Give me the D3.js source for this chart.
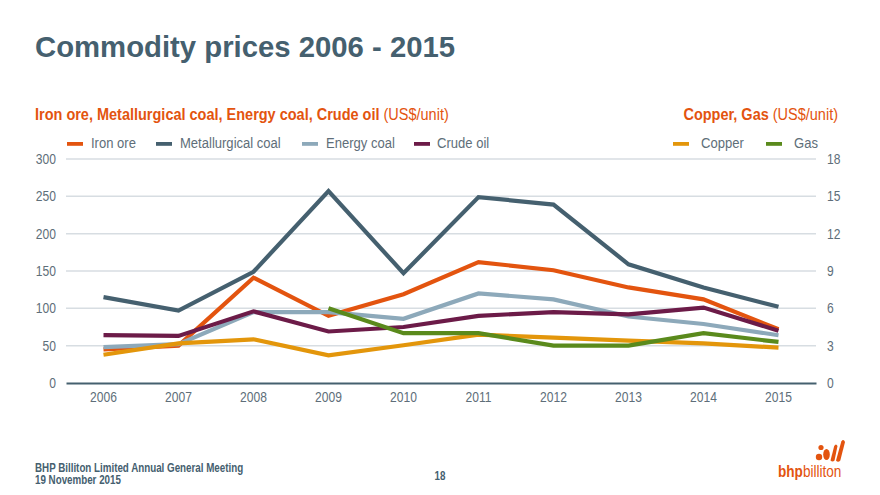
<!DOCTYPE html>
<html>
<head>
<meta charset="utf-8">
<script src="https://cdn.jsdelivr.net/npm/d3@7/dist/d3.min.js"></script>
<style>
  html, body { margin: 0; padding: 0; background: #fff; }
  svg { display: block; font-family: "Liberation Sans", Arial, sans-serif; }
</style>
</head>
<body>
<svg id="chart" width="880" height="495"></svg>
<script>
// ---- Data ----
const years = ["2006","2007","2008","2009","2010","2011","2012","2013","2014","2015"];
const leftTicks = [0, 50, 100, 150, 200, 250, 300];
const rightTicks = [0, 3, 6, 9, 12, 15, 18];

const ironOre        = [45, 50, 141, 90, 119, 162, 151, 128, 112, 72];
const metCoal        = [115, 97, 149, 257, 147, 249, 239, 159, 128, 102];
const energyCoal     = [48, 52, 95, 95, 86, 120, 112, 89, 79, 64];
const crudeOil       = [64, 63, 96, 69, 75, 90, 95, 92, 101, 70];
const copper         = [2.27, 3.19, 3.51, 2.22, 3.03, 3.88, 3.64, 3.4, 3.19, 2.84];
const gas            = [null, null, null, 6.0, 4.0, 4.0, 3.0, 3.0, 4.0, 3.3];

const series = [
  { name: "Iron ore",           values: ironOre,    axis: "left",  color: "#E3540F" },
  { name: "Metallurgical coal", values: metCoal,    axis: "left",  color: "#45606F" },
  { name: "Energy coal",        values: energyCoal, axis: "left",  color: "#8DA9BA" },
  { name: "Crude oil",          values: crudeOil,   axis: "left",  color: "#6C1B48" },
  { name: "Copper",             values: copper,     axis: "right", color: "#E3960B" },
  { name: "Gas",                values: gas,        axis: "right", color: "#5A8A1C" }
];

// ---- Layout ----
const svg = d3.select("#chart");
const plot = { left: 66, right: 816, top: 159, bottom: 383 };
const textGrey = "#5E6E79";
const slate = "#45606F";
const orange = "#E3540F";
const FF = "Liberation Sans, Arial, sans-serif";

const x = d3.scaleBand().domain(years).range([plot.left, plot.right]);
const yL = d3.scaleLinear().domain([0, 300]).range([plot.bottom, plot.top]);
const yR = d3.scaleLinear().domain([0, 18]).range([plot.bottom, plot.top]);

// Title
svg.append("text").attr("x", 35).attr("y", 57)
  .attr("font-size", 29.3).attr("font-weight", "bold").attr("fill", slate)
  .text("Commodity prices 2006 - 2015");

// Subtitles (condensed)
const st = svg.append("text").attr("transform", "translate(35,120) scale(0.89,1)")
  .attr("font-size", 16.3).attr("fill", orange);
st.append("tspan").attr("font-weight", "bold").text("Iron ore, Metallurgical coal, Energy coal, Crude oil");
st.append("tspan").text(" (US$/unit)");
const st2 = svg.append("text").attr("transform", "translate(838,120) scale(0.89,1)")
  .attr("font-size", 16.3).attr("fill", orange).attr("text-anchor", "end");
st2.append("tspan").attr("font-weight", "bold").text("Copper, Gas");
st2.append("tspan").text(" (US$/unit)");

// Grid
svg.append("g").selectAll("line").data(leftTicks.filter(d => d > 0)).join("line")
  .attr("x1", plot.left).attr("x2", plot.right)
  .attr("y1", d => yL(d)).attr("y2", d => yL(d))
  .attr("stroke", "#D7DDE2").attr("stroke-width", 1.5);

function styleTicks(g) {
  g.selectAll("text").attr("font-size", 14.4).attr("fill", textGrey)
    .attr("font-family", FF).attr("transform", "scale(0.84,1)");
}

// Left axis
const gl = svg.append("g").attr("transform", `translate(${plot.left - 10},0)`)
  .call(d3.axisLeft(yL).tickValues(leftTicks).tickSize(0).tickPadding(0));
gl.select(".domain").remove();
styleTicks(gl);

// Right axis
const gr = svg.append("g").attr("transform", `translate(${plot.right + 11},0)`)
  .call(d3.axisRight(yR).tickValues(rightTicks).tickSize(0).tickPadding(0));
gr.select(".domain").remove();
styleTicks(gr);

// X axis
const gx = svg.append("g").attr("transform", `translate(0,${plot.bottom})`)
  .call(d3.axisBottom(x).tickSize(0).tickPadding(9));
gx.select(".domain").attr("stroke", slate).attr("stroke-width", 2.2);
styleTicks(gx);

// Lines
series.forEach(s => {
  const yS = s.axis === "left" ? yL : yR;
  const line = d3.line()
    .defined(d => d != null)
    .x((d, i) => x(years[i]) + x.bandwidth() / 2)
    .y(d => yS(d));
  svg.append("path").datum(s.values)
    .attr("d", line).attr("fill", "none")
    .attr("stroke", s.color).attr("stroke-width", 4.2)
    .attr("stroke-linejoin", "miter").attr("stroke-linecap", "butt");
});

// Legend
const legendPos = [
  { sx: 67, tx: 91 }, { sx: 156, tx: 180 }, { sx: 302, tx: 326 },
  { sx: 414, tx: 437 }, { sx: 673, tx: 701 }, { sx: 766, tx: 794 }
];
const lg = svg.append("g");
series.forEach((s, i) => {
  lg.append("rect").attr("x", legendPos[i].sx).attr("y", 142).attr("width", 16).attr("height", 3.8)
    .attr("fill", s.color);
  lg.append("text").attr("transform", `translate(${legendPos[i].tx},147.5) scale(0.87,1)`)
    .attr("font-size", 15).attr("fill", textGrey).text(s.name);
});

// Footer
svg.append("text").attr("transform", "translate(35,472) scale(0.79,1)").attr("font-size", 12.4)
  .attr("font-weight", "bold").attr("fill", slate).text("BHP Billiton Limited Annual General Meeting");
svg.append("text").attr("transform", "translate(35,484) scale(0.79,1)").attr("font-size", 12.4)
  .attr("font-weight", "bold").attr("fill", slate).text("19 November 2015");
svg.append("text").attr("transform", "translate(440,480) scale(0.79,1)").attr("font-size", 12.4)
  .attr("font-weight", "bold").attr("fill", slate).attr("text-anchor", "middle").text("18");

// Logo
const logo = svg.append("g").attr("fill", orange);
logo.append("circle").attr("cx", 821).attr("cy", 447.5).attr("r", 2.6);
logo.append("circle").attr("cx", 819).attr("cy", 457).attr("r", 3.2);
logo.append("ellipse").attr("cx", 826.5).attr("cy", 454.5).attr("rx", 3.3).attr("ry", 5.5);
logo.append("path").attr("d", "M830.5,460.5 L834.2,446 Q836,443 837.5,446 L834.5,460.5 Q832.5,462.5 830.5,460.5 Z");
logo.append("path").attr("d", "M836,460.5 L841.3,441.5 Q843.5,438.5 845,442 L840.3,460.5 Q838,463 836,460.5 Z");
const lt = svg.append("text").attr("transform", "translate(778,477) scale(0.8,1)")
  .attr("font-size", 17).attr("fill", orange);
lt.append("tspan").attr("font-weight", "bold").text("bhp");
lt.append("tspan").text("billiton");
</script>
</body>
</html>
